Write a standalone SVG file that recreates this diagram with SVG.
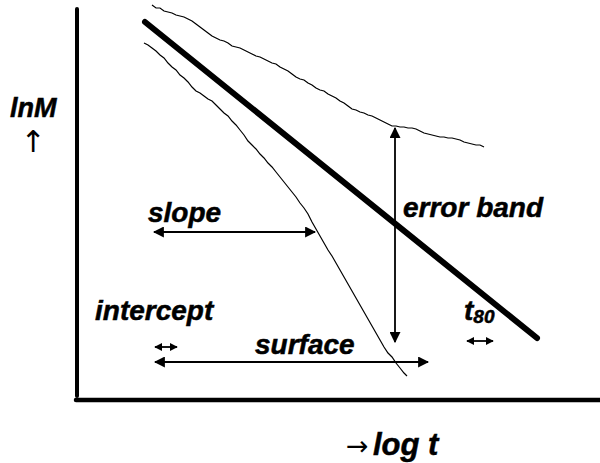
<svg xmlns="http://www.w3.org/2000/svg" width="600" height="463" viewBox="0 0 600 463">
<defs>
<style>
.lbl{font-family:"Liberation Sans",Arial,sans-serif;font-weight:bold;font-style:italic;font-size:28px;fill:#000;stroke:#000;stroke-width:0.5}
.sym{font-family:"DejaVu Sans",sans-serif;fill:#000}
.wavy{fill:none;stroke:#000;stroke-width:1.2}
.arr{stroke:#000;stroke-width:1.8;fill:none}
</style>
<marker id="ah" viewBox="0 0 10 10" refX="9" refY="5" markerWidth="11" markerHeight="11" markerUnits="userSpaceOnUse" orient="auto-start-reverse">
<path d="M0,0 L10,5 L0,10 z" fill="#000"/>
</marker>
<marker id="ahs" viewBox="0 0 10 10" refX="9" refY="5" markerWidth="8" markerHeight="8" markerUnits="userSpaceOnUse" orient="auto-start-reverse">
<path d="M0,0 L10,5 L0,10 z" fill="#000"/>
</marker>
</defs>
<rect width="600" height="463" fill="#fff"/>
<g id="axes">
<line x1="77" y1="9" x2="77" y2="396" stroke="#000" stroke-width="4" stroke-linecap="round"/>
<line x1="76" y1="400" x2="600" y2="400" stroke="#000" stroke-width="4.5" stroke-linecap="round"/>
</g>
<g id="trend">
<line x1="145" y1="22" x2="537" y2="338" stroke="#000" stroke-width="6" stroke-linecap="round"/>
</g>
<g id="band">
<path class="wavy" d="M152,5 L156,8 L160,8 L164,11 L168,12 L172,13 L176,15 L180,16 L184,17 L188,19 L192,21 L196,24 L200,27 L204,30 L208,33 L212,36 L216,38 L220,40 L224,41 L228,43 L232,46 L236,47 L240,48 L244,50 L248,52 L252,54 L256,56 L260,57 L264,59 L268,61 L272,63 L276,64 L280,67 L284,69 L288,71 L292,74 L296,77 L300,79 L304,80 L308,83 L312,85 L316,88 L320,90 L324,91 L328,94 L332,96 L336,98 L340,101 L344,103 L348,106 L352,109 L356,110 L360,112 L364,113 L368,115 L372,116 L376,118 L380,120 L384,122 L388,124 L392,126 L396,126 L400,127 L404,127 L408,128 L412,128 L416,129 L420,131 L424,133 L428,134 L432,135 L436,136 L440,137 L444,137 L448,138 L452,138 L456,139 L460,140 L464,142 L468,143 L472,144 L476,145 L480,145 L484,147"/>
<path class="wavy" d="M144,43 L148,45 L152,48 L156,51 L160,55 L164,58 L168,63 L172,67 L176,70 L180,75 L184,78 L188,82 L192,87 L196,91 L200,93 L204,96 L208,99 L212,101 L216,105 L220,109 L224,113 L228,116 L232,121 L236,125 L240,130 L244,135 L248,141 L252,145 L256,149 L260,154 L264,158 L268,163 L272,167 L276,172 L280,177 L284,182 L288,187 L292,192 L296,197 L300,203 L304,208 L308,214 L312,222 L316,229 L320,236 L324,243 L328,250 L332,256 L336,263 L340,270 L344,277 L348,284 L352,291 L356,298 L360,305 L364,312 L368,319 L372,326 L376,333 L380,340 L384,347 L388,353 L392,357 L396,363 L400,368 L404,373 L407,376"/>
</g>
<g id="connectors">
<line class="arr" x1="395" y1="128" x2="395" y2="342" marker-start="url(#ah)" marker-end="url(#ah)"/>
<line class="arr" x1="154" y1="232" x2="315" y2="232" marker-start="url(#ah)" marker-end="url(#ah)"/>
<line class="arr" x1="155" y1="362" x2="428" y2="362" marker-start="url(#ah)" marker-end="url(#ah)"/>
<line class="arr" x1="155" y1="347" x2="177" y2="347" marker-start="url(#ahs)" marker-end="url(#ahs)"/>
<line class="arr" x1="467" y1="341" x2="493" y2="341" marker-start="url(#ahs)" marker-end="url(#ahs)"/>
</g>
<g id="label-lnM">
<text class="lbl" x="10" y="117" style="font-size:27px">lnM</text>
<text class="sym" x="33" y="152" text-anchor="middle" style="font-size:30px">↑</text>
</g>
<g id="label-slope"><text class="lbl" x="148" y="222">slope</text></g>
<g id="label-error"><text class="lbl" x="403" y="217">error band</text></g>
<g id="label-intercept"><text class="lbl" x="95" y="320">intercept</text></g>
<g id="label-surface"><text class="lbl" x="255" y="354">surface</text></g>
<g id="label-t80"><text class="lbl" x="464" y="320">t<tspan style="font-size:19px" dy="3">80</tspan></text></g>
<g id="label-logt">
<text class="sym" x="346" y="455" style="font-size:27px">→</text>
<text class="lbl" x="373" y="455" style="font-size:31px">log t</text>
</g>
</svg>
